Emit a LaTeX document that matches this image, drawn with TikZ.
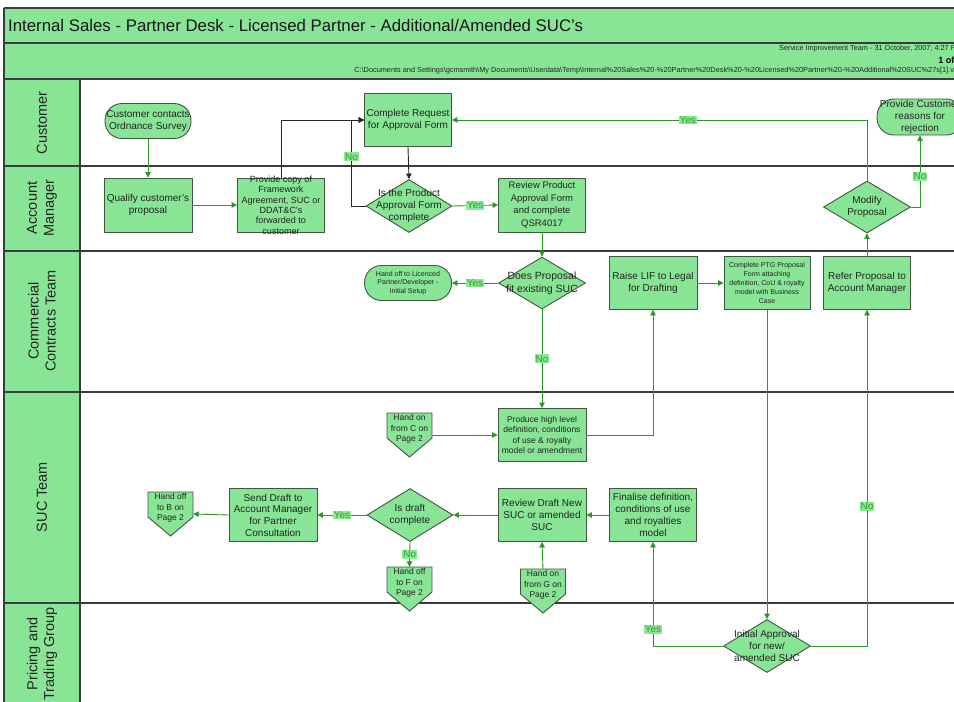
\documentclass[tikz,border=0pt]{standalone}
\usepackage{fontspec}
\setmainfont{Liberation Sans}
\usetikzlibrary{arrows.meta,shapes.geometric,calc}

\definecolor{lanegreen}{RGB}{136,229,150}
\definecolor{boxgreen}{RGB}{136,229,150}
\definecolor{edgegray}{RGB}{65,85,65}
\definecolor{flowgreen}{RGB}{40,150,40}
\definecolor{labbg}{RGB}{140,232,150}
\definecolor{labtext}{RGB}{40,165,40}
\definecolor{txt}{RGB}{35,35,35}
\definecolor{laneline}{RGB}{60,60,60}

% off-page connector: name, centre x, top y, text
\newcommand{\offpage}[4]{%
  \draw[shapeline] (#2-22.5,#3) -- (#2+22.5,#3) -- (#2+22.5,#3+25)
    -- (#2,#3+44) -- (#2-22.5,#3+25) -- cycle;
  \node[offtext] (#1t) at (#2,#3+16) {#4};
  \node[hit, minimum width=45pt, minimum height=44pt] (#1) at (#2,#3+22) {};}

\begin{document}
\begin{tikzpicture}[x=1pt,y=-1pt,
  shapeline/.style={draw=edgegray, fill=boxgreen, line width=0.9pt},
  box/.style={shapeline, rectangle, minimum width=87pt, minimum height=53pt,
    inner sep=0pt, align=center, text=txt, font=\fontsize{10}{12}\selectfont},
  stadium/.style={box, rounded corners=17pt, minimum height=35pt},
  dia/.style={shapeline, diamond, minimum width=87pt, minimum height=53pt, inner sep=0pt},
  dtext/.style={align=center, text=txt, font=\fontsize{10}{12}\selectfont, inner sep=0pt},
  offtext/.style={align=center, text=txt, font=\fontsize{8.5}{10.5}\selectfont, inner sep=0pt},
  hit/.style={inner sep=0pt, draw=none},
  flow/.style={draw=flowgreen, line width=0.9pt, -{Triangle[length=5.5pt,width=5.5pt]}},
  flowk/.style={draw=black!85, line width=0.9pt, -{Triangle[length=5.5pt,width=5.5pt]}},
  lab/.style={fill=labbg, text=labtext, font=\fontsize{10}{11}\selectfont, inner sep=1pt},
  lanetext/.style={align=center, text=txt, font=\fontsize{14.5}{17}\selectfont, rotate=90},
  lane/.style={draw=laneline, line width=1.1pt}
]
\useasboundingbox (0,0) rectangle (954,702);
\clip (0,0) rectangle (954,702);
\fill[white] (0,0) rectangle (954,702);

% header bands and lane title column
\fill[lanegreen] (4,8) rectangle (990,79);
\fill[lanegreen] (4,79) rectangle (80,720);
\draw[lane] (4,8) -- (990,8);
\draw[lane] (4,43) -- (990,43);
\draw[lane] (4,79) -- (990,79);
\draw[lane] (4,8) -- (4,720);
\draw[lane] (80,79) -- (80,720);
\foreach \yy in {166,251,392,603} \draw[lane] (4,\yy) -- (990,\yy);

% header texts
\node[anchor=west, text=black!90, font=\fontsize{16.8}{20}\selectfont, inner sep=0pt]
  (title) at (8,25) {Internal Sales - Partner Desk - Licensed Partner - Additional/Amended SUC's};
\node[anchor=east, text=txt, font=\fontsize{7.3}{8}\selectfont, inner sep=0pt]
  (stamp) at (962,49) {Service Improvement Team - 31 October, 2007; 4:27 PM};
\node[anchor=east, text=black, font=\bfseries\fontsize{9}{10}\selectfont, inner sep=0pt]
  (pageno) at (962,60) {1 of 2};
\node[anchor=east, text=txt, font=\fontsize{7.35}{8}\selectfont, inner sep=0pt]
  (fpath) at (962,71) {C:\textbackslash Documents and Settings\textbackslash gcmsmith\textbackslash My Documents\textbackslash Userdata\textbackslash Temp\textbackslash Internal\%20Sales\%20-\%20Partner\%20Desk\%20-\%20Licensed\%20Partner\%20-\%20Additional\%20SUC\%27s[1].vsd};

% lane titles
\node[lanetext] (lcust) at (42,123) {Customer};
\node[lanetext] (lacc) at (42,208) {Account\\Manager};
\node[lanetext] (lcom) at (42,321) {Commercial\\Contracts Team};
\node[lanetext] (lsuc) at (42,497) {SUC Team};
\node[lanetext] (lpri) at (42,654) {Pricing and\\Trading Group};

% Customer lane
\node[stadium, minimum width=86pt] (cc) at (148,121) {Customer contacts\\Ordnance Survey};
\node[box] (cr) at (408,120) {Complete Request\\for Approval Form};
\node[stadium, minimum width=86pt, minimum height=36pt] (pr) at (920,117) {Provide Customer\\reasons for\\rejection};

% Account Manager lane
\node[box, minimum width=88pt, minimum height=54pt] (qc) at (148,205) {Qualify customer's\\proposal};
\node[box, minimum height=54pt] (pc) at (281,205) {};
\node[dtext, font=\fontsize{9}{10.4}\selectfont] (pct) at (281,205)
  {Provide copy of\\Framework\\Agreement, SUC or\\DDAT\&C's\\forwarded to\\customer};
\node[dia, minimum width=86pt] (d1) at (409,206) {};
\node[dtext] (d1t) at (409,206) {Is the Product\\Approval Form\\complete};
\node[box, minimum height=54pt, font=\fontsize{9.5}{12.5}\selectfont] (rp) at (542,205)
  {Review Product\\Approval Form\\and complete\\QSR4017};
\node[dia, minimum height=52pt] (mp) at (867,207) {};
\node[dtext] (mpt) at (867,207) {Modify\\Proposal};

% Commercial Contracts lane
\node[stadium, font=\fontsize{7}{8.8}\selectfont] (ho) at (408,283)
  {Hand off to Licenced\\Partner/Developer -\\Initial Setup};
\node[dia, minimum height=52pt] (d2) at (542,283) {};
\node[dtext, font=\fontsize{10.5}{13}\selectfont] (d2t) at (542,283) {Does Proposal\\fit existing SUC};
\node[box, minimum width=88pt] (rl) at (653,283) {Raise LIF to Legal\\for Drafting};
\node[box, minimum width=86pt, font=\fontsize{7}{9.2}\selectfont] (ptg) at (767,283)
  {Complete PTG Proposal\\Form attaching\\definition, CoU \& royalty\\model with Business\\Case};
\node[box] (rf) at (867,283) {Refer Proposal to\\Account Manager};

% SUC Team lane
\offpage{hc}{409.5}{413}{Hand on\\from C on\\Page 2}
\node[box, minimum width=88pt, font=\fontsize{8.5}{10.5}\selectfont] (ph) at (542,435)
  {Produce high level\\definition, conditions\\of use \& royalty\\model or amendment};
\offpage{hb}{170.5}{492}{Hand off\\to B on\\Page 2}
\node[box, minimum width=88pt, font=\fontsize{10}{11.7}\selectfont] (sd) at (273,515)
  {Send Draft to\\Account Manager\\for Partner\\Consultation};
\node[dia, minimum width=86pt] (d3) at (410,515) {};
\node[dtext] (d3t) at (410,515) {Is draft\\complete};
\offpage{hf}{409.5}{567}{Hand off\\to F on\\Page 2}
\node[box, minimum width=88pt] (rd) at (542,515) {Review Draft New\\SUC or amended\\SUC};
\offpage{hg}{543}{569}{Hand on\\from G on\\Page 2}
\node[box] (fd) at (653,515) {Finalise definition,\\conditions of use\\and royalties\\model};

% Pricing and Trading lane
\node[dia] (d4) at (767,646) {};
\node[dtext] (d4t) at (767,646) {Initial Approval\\for new/\\amended SUC};

% connectors
\draw[flow] (cc.south) -- (qc.north);
\draw[flow] (qc.east) -- (pc.west);
\draw[flowk] (pc.north) |- (cr.west);
\draw[flowk] (d1.west) -- ++(-14,0) coordinate (nb)
  -- node[lab, pos=0.57] {No} (nb |- cr.west) -- (cr.west);
\draw[flowk] (cr.south) -- (d1.north);
\draw[flow] (d1.east) -- node[lab] {Yes} (rp.west);
\draw[flow] (rp.south) -- (d2.north);
\draw[flow] (d2.west) -- node[lab] {Yes} (ho.east);
\draw[flow] (d2.south) -- node[lab] {No} (ph.north);
\draw[flow] (hc.east) -- (ph.west);
\draw[flow] (ph.east) -| (rl.south);
\draw[flow] (rl.east) -- (ptg.west);
\draw[flow] (ptg.south) -- (d4.north);
\draw[flow] (d4.west) -| node[lab, pos=0.58] {Yes} (fd.south);
\draw[flow] (d4.east) -| node[lab, pos=0.708] {No} (rf.south);
\draw[flow] (rf.north) -- (mp.south);
\draw[flow] (mp.north) |- node[lab, pos=0.716] {Yes} (cr.east);
\draw[flow] (mp.east) -| node[lab, pos=0.715] {No} (pr.south);
\draw[flow] (fd.west) -- (rd.east);
\draw[flow] (rd.west) -- (d3.east);
\draw[flow] (d3.west) -- node[lab] {Yes} (sd.east);
\draw[flow] (sd.west) -- (hb.east);
\draw[flow] (d3.south) -- node[lab] {No} (hf.north);
\draw[flow] (hg.north) -- (rd.south);
\end{tikzpicture}
\end{document}
